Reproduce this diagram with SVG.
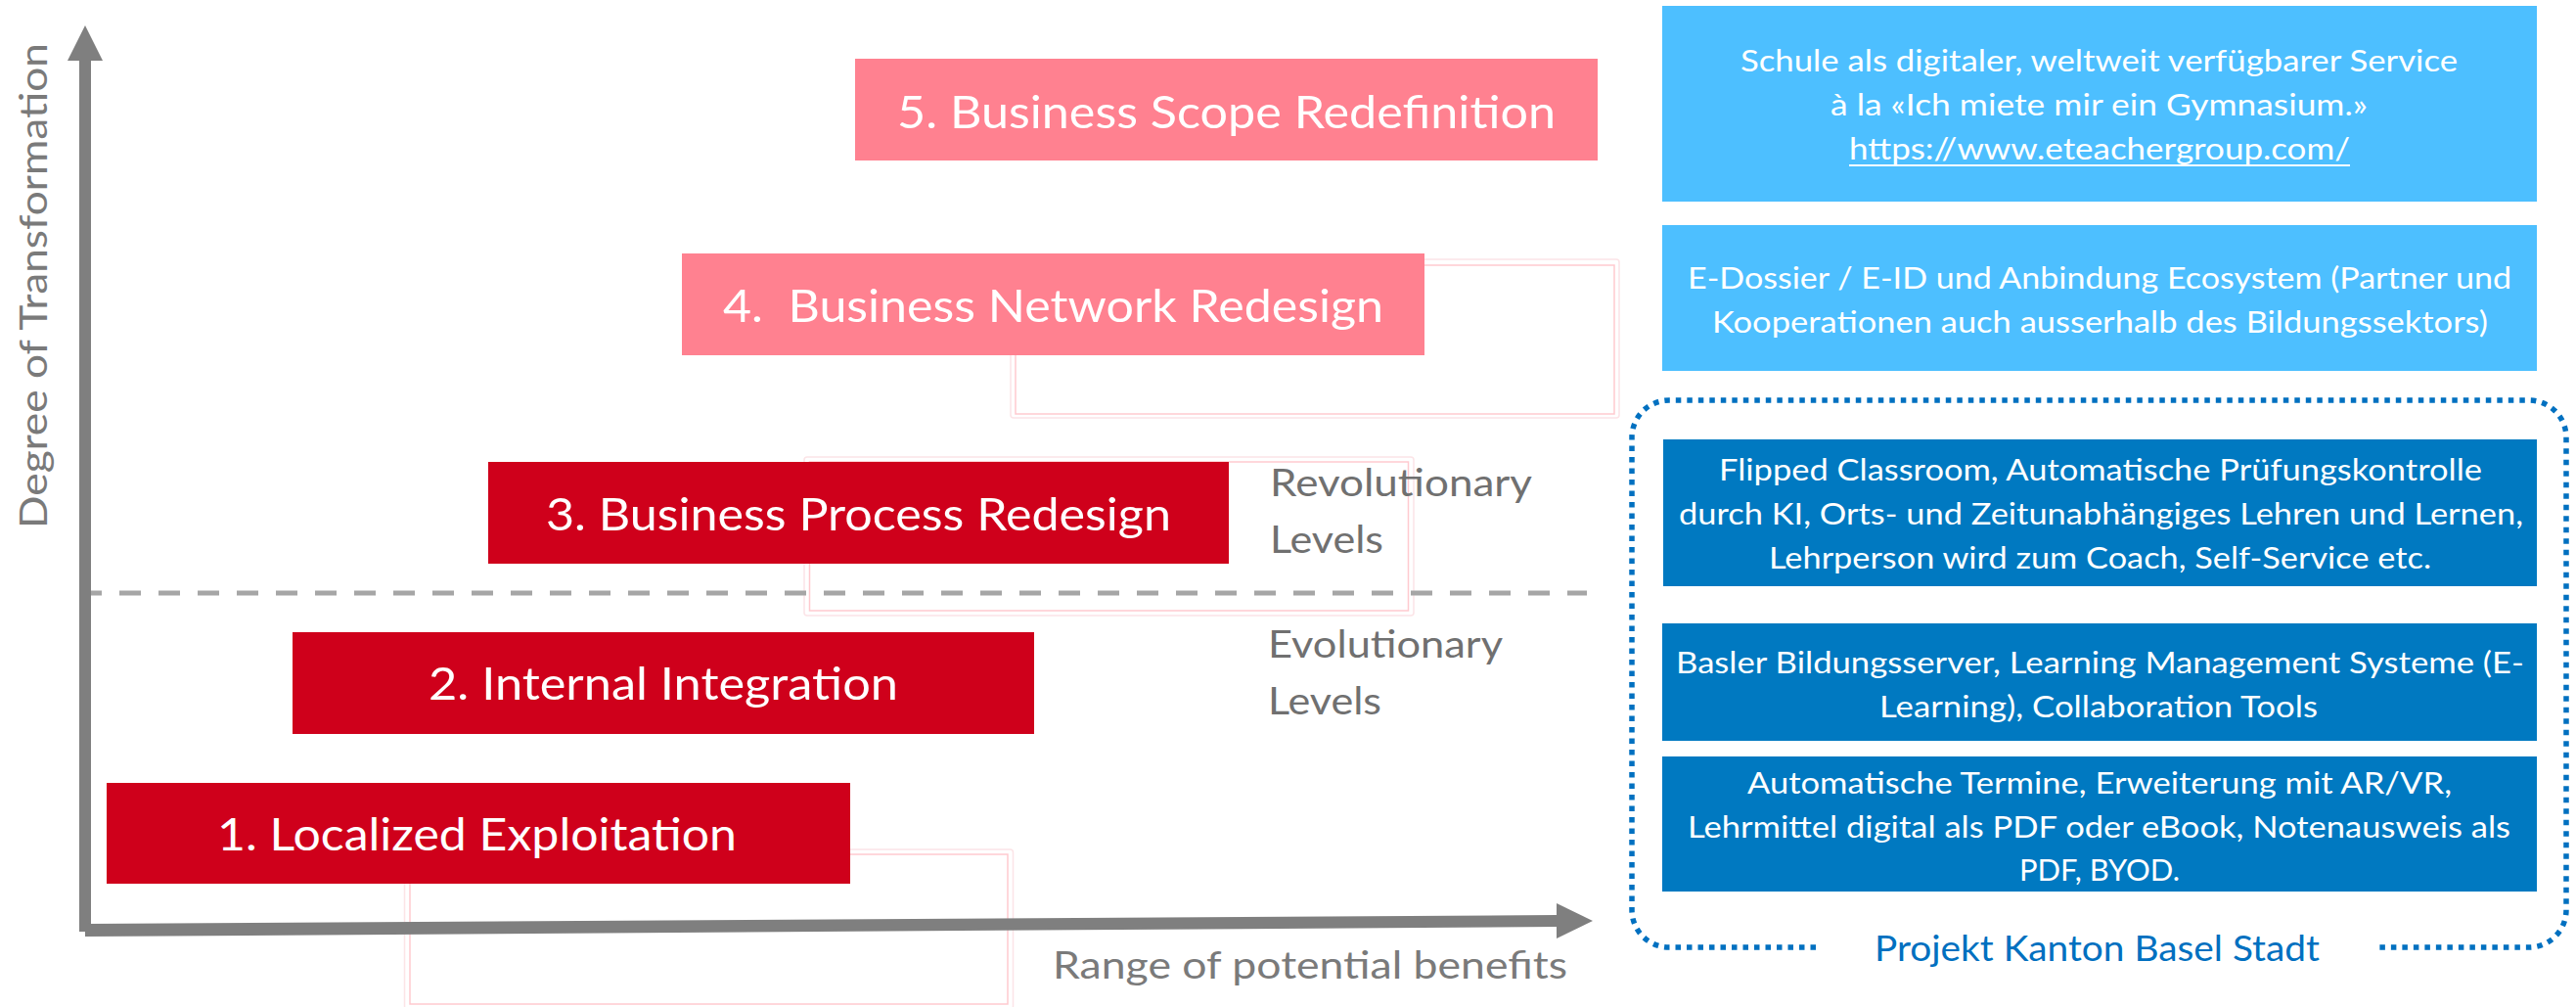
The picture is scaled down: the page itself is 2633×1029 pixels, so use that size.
<svg xmlns="http://www.w3.org/2000/svg" width="2633" height="1029" viewBox="0 0 2633 1029">
<style>
.lbl{font-family:Lato,"Open Sans","Liberation Sans",sans-serif;font-size:46px;fill:#fff}
.rt{font-family:Lato,"Open Sans","Liberation Sans",sans-serif;font-size:31px;fill:#fff}
.gt{font-family:Lato,"Open Sans","Liberation Sans",sans-serif;font-size:38px;fill:#707070}
.ax{font-family:Lato,"Open Sans","Liberation Sans",sans-serif;font-size:39px;fill:#7a7a7a}
.red{fill:#CF001B}
.pink{fill:#FF8190}
.lb{fill:#4DBFFF}
.db{fill:#0079C1}
.go{fill:none;stroke:#FCE4E7;stroke-width:1.5}
.gi{fill:none;stroke:#FFCACF;stroke-width:1.5}
</style>
<rect width="2633" height="1029" fill="#fff"/>
<g id="ghost-outlines">
<rect class="go" x="1033" y="265" width="622" height="162" rx="3"/>
<rect class="gi" x="1038" y="271" width="612" height="152"/>
<rect class="go" x="822" y="467" width="623" height="162" rx="3"/>
<rect class="gi" x="827.5" y="472" width="612" height="152"/>
<rect class="go" x="413.5" y="868" width="622" height="163" rx="3"/>
<rect class="gi" x="419" y="873" width="611" height="153"/>
</g>
<g id="connectors">
<line x1="82" y1="606" x2="1622" y2="606" stroke="#A6A6A6" stroke-width="5" stroke-dasharray="22 18"/>
<rect x="81" y="58" width="12" height="894" fill="#7F7F7F"/>
<polygon points="69,62 87,26 105,62" fill="#7F7F7F"/>
<polygon points="87,944 1592,935 1592,947 87,957" fill="#7F7F7F"/>
<polygon points="1591,923 1628,941 1591,959" fill="#7F7F7F"/>
</g>
<g id="axis-labels">
<text class="ax" transform="translate(48,540) rotate(-90)" textLength="496" lengthAdjust="spacingAndGlyphs">Degree of Transformation</text>
<text class="ax" x="1076" y="1000" textLength="526" lengthAdjust="spacingAndGlyphs">Range of potential benefits</text>
</g>
<g id="level-labels">
<text class="gt" x="1298" y="507" textLength="268" lengthAdjust="spacingAndGlyphs">Revolutionary</text>
<text class="gt" x="1298" y="565" textLength="116" lengthAdjust="spacingAndGlyphs">Levels</text>
<text class="gt" x="1296" y="672" textLength="240" lengthAdjust="spacingAndGlyphs">Evolutionary</text>
<text class="gt" x="1296" y="730" textLength="116" lengthAdjust="spacingAndGlyphs">Levels</text>
</g>
<g id="level5">
<rect class="pink" x="874" y="60" width="759" height="104"/>
<text class="lbl" x="917" y="131" textLength="673" lengthAdjust="spacingAndGlyphs">5. Business Scope Redefinition</text>
</g>
<g id="level4">
<rect class="pink" x="697" y="259" width="759" height="104"/>
<text class="lbl" x="739" y="329" textLength="675" lengthAdjust="spacingAndGlyphs" xml:space="preserve">4.  Business Network Redesign</text>
</g>
<g id="level3">
<rect class="red" x="499" y="472" width="757" height="104"/>
<text class="lbl" x="558" y="542" textLength="639" lengthAdjust="spacingAndGlyphs">3. Business Process Redesign</text>
</g>
<g id="level2">
<rect class="red" x="299" y="646" width="758" height="104"/>
<text class="lbl" x="438" y="715" textLength="480" lengthAdjust="spacingAndGlyphs">2. Internal Integration</text>
</g>
<g id="level1">
<rect class="red" x="109" y="800" width="760" height="103"/>
<text class="lbl" x="222" y="869" textLength="531" lengthAdjust="spacingAndGlyphs">1. Localized Exploitation</text>
</g>
<g id="service-school">
<rect class="lb" x="1699" y="6" width="894" height="200"/>
<text class="rt" x="1779" y="73" textLength="733" lengthAdjust="spacingAndGlyphs">Schule als digitaler, weltweit verfügbarer Service</text>
<text class="rt" x="1871" y="118" textLength="549" lengthAdjust="spacingAndGlyphs">à la «Ich miete mir ein Gymnasium.»</text>
<text class="rt" x="1890" y="163" textLength="512" lengthAdjust="spacingAndGlyphs">https://www.eteachergroup.com/</text>
<rect x="1890" y="168" width="512" height="2" fill="#fff"/>
</g>
<g id="ecosystem">
<rect class="lb" x="1699" y="230" width="894" height="149"/>
<text class="rt" x="1725" y="295" textLength="842" lengthAdjust="spacingAndGlyphs">E-Dossier / E-ID und Anbindung Ecosystem (Partner und</text>
<text class="rt" x="1750" y="340" textLength="793" lengthAdjust="spacingAndGlyphs">Kooperationen auch ausserhalb des Bildungssektors)</text>
</g>
<g id="projekt-basel">
<path d="M1856,968 H1706 A38,38 0 0 1 1668,930 V447 A38,38 0 0 1 1706,409 H2585 A38,38 0 0 1 2623,447 V930 A38,38 0 0 1 2585,968 H2427" fill="none" stroke="#0070C0" stroke-width="5.5" stroke-dasharray="5.5 6"/>
<text x="1916" y="982" font-family="Lato,'Open Sans','Liberation Sans',sans-serif" font-size="36" fill="#0070C0" textLength="455" lengthAdjust="spacingAndGlyphs">Projekt Kanton Basel Stadt</text>
</g>
<g id="flipped">
<rect class="db" x="1700" y="449" width="893" height="150"/>
<text class="rt" x="1757" y="491" textLength="780" lengthAdjust="spacingAndGlyphs">Flipped Classroom, Automatische Prüfungskontrolle</text>
<text class="rt" x="1716" y="536" textLength="863" lengthAdjust="spacingAndGlyphs">durch KI, Orts- und Zeitunabhängiges Lehren und Lernen,</text>
<text class="rt" x="1808" y="581" textLength="677" lengthAdjust="spacingAndGlyphs">Lehrperson wird zum Coach, Self-Service etc.</text>
</g>
<g id="bildungsserver">
<rect class="db" x="1699" y="637" width="894" height="120"/>
<text class="rt" x="1713" y="688" textLength="867" lengthAdjust="spacingAndGlyphs">Basler Bildungsserver, Learning Management Systeme (E-</text>
<text class="rt" x="1921" y="733" textLength="448" lengthAdjust="spacingAndGlyphs">Learning), Collaboration Tools</text>
</g>
<g id="termine">
<rect class="db" x="1699" y="773" width="894" height="138"/>
<text class="rt" x="1786" y="811" textLength="720" lengthAdjust="spacingAndGlyphs">Automatische Termine, Erweiterung mit AR/VR,</text>
<text class="rt" x="1725" y="856" textLength="841" lengthAdjust="spacingAndGlyphs">Lehrmittel digital als PDF oder eBook, Notenausweis als</text>
<text class="rt" x="2064" y="900" textLength="164" lengthAdjust="spacingAndGlyphs">PDF, BYOD.</text>
</g>
</svg>
